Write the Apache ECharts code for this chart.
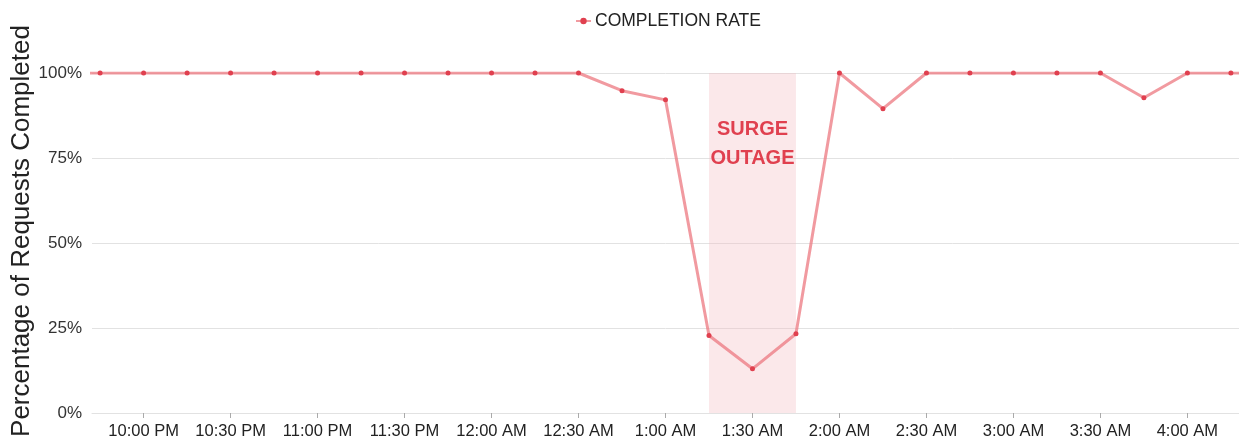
<!DOCTYPE html>
<html>
<head>
<meta charset="utf-8">
<script src="https://cdn.jsdelivr.net/npm/echarts@6/dist/echarts.min.js"></script>
<style>
html,body{margin:0;padding:0;background:#fff;}
#chart{width:1239px;height:443px;}
</style>
</head>
<body>
<div id="chart"></div>
<script>
// ---- data ----
var times = ["9:30 PM","9:45 PM","10:00 PM","10:15 PM","10:30 PM","10:45 PM","11:00 PM","11:15 PM","11:30 PM","11:45 PM",
  "12:00 AM","12:15 AM","12:30 AM","12:45 AM","1:00 AM","1:15 AM","1:30 AM","1:45 AM","2:00 AM","2:15 AM",
  "2:30 AM","2:45 AM","3:00 AM","3:15 AM","3:30 AM","3:45 AM","4:00 AM","4:15 AM","4:30 AM"];
var completionRate = [100,100,100,100,100,100,100,100,100,100,
  100,100,100,94.8,92.1,22.8,13.0,23.3,100,89.5,
  100,100,100,100,100,92.7,100,100,100];
var tickLabels = ["10:00 PM","10:30 PM","11:00 PM","11:30 PM","12:00 AM","12:30 AM","1:00 AM","1:30 AM","2:00 AM","2:30 AM","3:00 AM","3:30 AM","4:00 AM"];
var outageStart = "1:15 AM", outageEnd = "1:45 AM";
var outageLabel = "SURGE\nOUTAGE";
var seriesName = "COMPLETION RATE";
var yAxisTitle = "Percentage of Requests Completed";

// minutes since 9:30 PM
function toMin(t){
  var m = t.match(/(\d+):(\d+)\s*(AM|PM)/);
  var h = parseInt(m[1],10) % 12, mi = parseInt(m[2],10);
  if (m[3] === "PM") h += 12;
  var total = h*60 + mi;
  var base = 21*60 + 30;
  var d = total - base;
  if (d < 0) d += 24*60;
  return d;
}
var points = times.map(function(t,i){ return [toMin(t), completionRate[i]]; });
var tickMins = tickLabels.map(toMin);
var labelByMin = {};
tickLabels.forEach(function(t){ labelByMin[toMin(t)] = t; });

var FONT = "Liberation Sans, Arial, sans-serif";
var chart = echarts.init(document.getElementById('chart'));
chart.setOption({
  animation: false,
  textStyle: {fontFamily: FONT},
  legend: {
    top: 7, left: 570,
    itemWidth: 15, itemHeight: 8,
    itemGap: 4,
    textStyle: {fontSize: 17.5, color: '#222', fontFamily: FONT, padding: [0,0,0,-1]},
    data: [seriesName]
  },
  graphic: [{
    type: 'text',
    x: 22, y: 231,
    rotation: Math.PI/2,
    style: {
      text: yAxisTitle,
      fontSize: 26, fontFamily: FONT, fill: '#222',
      align: 'center', verticalAlign: 'middle'
    }
  }],
  grid: {left: 92, right: 0, top: 73, bottom: 30, containLabel: false},
  xAxis: {
    type: 'value',
    min: 12.2, max: 407.8,
    splitLine: {show: false},
    axisLine: {show: true, lineStyle: {color: '#e2e2e2', width: 1}},
    axisTick: {show: true, length: 5, lineStyle: {color: '#aaa'}, customValues: tickMins},
    axisLabel: {
      customValues: tickMins,
      fontSize: 16.5, color: '#222', margin: 10,
      formatter: function(v){ return labelByMin[Math.round(v)] || ''; }
    }
  },
  yAxis: {
    type: 'value',
    min: 0, max: 100, interval: 25,
    axisLine: {show: false},
    axisTick: {show: false},
    splitLine: {lineStyle: {color: '#e2e2e2', width: 1}},
    axisLabel: {fontSize: 17, color: '#333', margin: 10, formatter: '{value}%'}
  },
  series: [{
    name: seriesName,
    type: 'line',
    data: points,
    clip: true,
    symbol: 'circle',
    symbolSize: 5,
    showSymbol: true,
    lineStyle: {color: 'rgba(236,120,128,0.75)', width: 3},
    itemStyle: {color: '#e0404f'},
    z: 3,
    markArea: {
      silent: true,
      itemStyle: {color: 'rgba(243,190,194,0.35)'},
      label: {
        show: true,
        position: 'insideTop',
        distance: 42,
        formatter: outageLabel,
        fontSize: 20, fontWeight: 'bold', color: '#e0404f',
        lineHeight: 29, fontFamily: FONT
      },
      data: [[{xAxis: toMin(outageStart), yAxis: 0}, {xAxis: toMin(outageEnd), yAxis: 100}]]
    }
  }]
});
</script>
</body>
</html>
